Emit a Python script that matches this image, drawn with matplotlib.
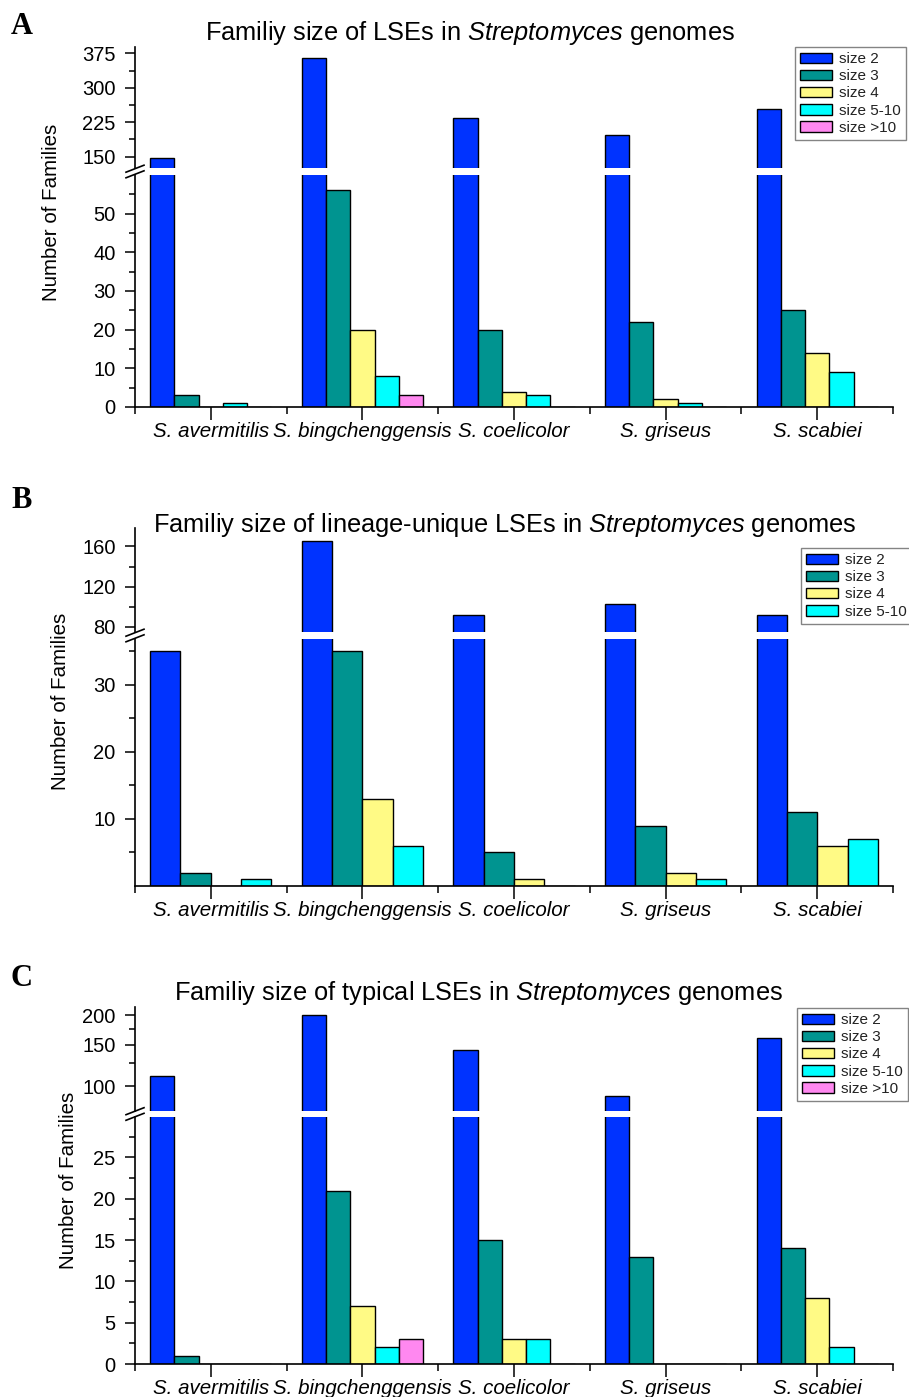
import numpy as np
import matplotlib
matplotlib.use('Agg')
import matplotlib.pyplot as plt
from matplotlib.ticker import FixedLocator, NullLocator, FixedFormatter, NullFormatter
from matplotlib.lines import Line2D

plt.rcParams['font.family'] = ['Liberation Sans', 'DejaVu Sans']
plt.rcParams['mathtext.fontset'] = 'custom'
plt.rcParams['mathtext.rm'] = 'Liberation Sans'
plt.rcParams['mathtext.it'] = 'Liberation Sans:italic'

# ---------------- data ----------------
categories = ['S. avermitilis', 'S. bingchenggensis', 'S. coelicolor', 'S. griseus', 'S. scabiei']
series_names = ['size 2', 'size 3', 'size 4', 'size 5-10', 'size >10']

# Panel A: all LSEs
a_size2 = [146, 364, 234, 196, 254]
a_size3 = [3, 56, 20, 22, 25]
a_size4 = [0, 20, 4, 2, 14]
a_size5_10 = [1, 8, 3, 1, 9]
a_size_gt10 = [0, 3, 0, 0, 0]

# Panel B: lineage-unique LSEs
b_size2 = [35, 165, 92, 103, 92]
b_size3 = [2, 35, 5, 9, 11]
b_size4 = [0, 13, 1, 2, 6]
b_size5_10 = [1, 6, 0, 1, 7]

# Panel C: typical LSEs
c_size2 = [110, 200, 142, 91, 160]
c_size3 = [1, 21, 15, 13, 14]
c_size4 = [0, 7, 3, 0, 8]
c_size5_10 = [0, 2, 3, 0, 2]
c_size_gt10 = [0, 3, 0, 0, 0]

colors = ['#0033FF', '#009490', '#FFFA85', '#00FFFF', '#FF88F0']

W, H = 909, 1397
fig = plt.figure(figsize=(W / 100, H / 100), dpi=100)


def box(x0, x1, ytop, ybot):
    return [x0 / W, 1 - ybot / H, (x1 - x0) / W, (ybot - ytop) / H]


def panel(letter, letter_y, title, title_c, series, up_px, low_px, up_lim, low_lim,
          up_major, up_minor, low_major, low_minor, up_log, legend_xy, ylabel_xy):
    n = len(series)
    width = 0.8 / n
    x0, x1 = 135, 893
    ax_u = fig.add_axes(box(x0, x1, *up_px))
    ax_l = fig.add_axes(box(x0, x1, *low_px))
    if up_log:
        ax_u.set_yscale('log')
    x = np.arange(len(categories))
    for i, vals in enumerate(series):
        offs = (i - (n - 1) / 2) * width
        for ax in (ax_u, ax_l):
            ax.bar(x + offs, vals, width, color=colors[i], edgecolor='black',
                   linewidth=1.0, label=series_names[i], zorder=2)
    for ax in (ax_u, ax_l):
        ax.set_xlim(-0.5, len(categories) - 0.5)
        for s in ('top', 'right'):
            ax.spines[s].set_visible(False)
        ax.spines['left'].set_linewidth(1.2)
        ax.spines['bottom'].set_linewidth(1.2)
        ax.tick_params(axis='y', which='major', direction='out', length=7, width=1.1,
                       labelsize=14.5, pad=7)
        ax.tick_params(axis='y', which='minor', direction='out', length=4, width=1.1)
    ax_u.spines['bottom'].set_visible(False)
    ax_u.tick_params(axis='x', which='both', bottom=False, labelbottom=False)
    ax_u.set_ylim(*up_lim)
    ax_l.set_ylim(*low_lim)
    ax_u.yaxis.set_major_locator(FixedLocator(up_major))
    ax_u.yaxis.set_major_formatter(FixedFormatter([str(v) for v in up_major]))
    ax_u.yaxis.set_minor_locator(FixedLocator(up_minor))
    ax_u.yaxis.set_minor_formatter(NullFormatter())
    ax_l.yaxis.set_major_locator(FixedLocator(low_major))
    ax_l.yaxis.set_minor_locator(FixedLocator(low_minor))
    ax_l.set_xticks(x)
    ax_l.set_xticklabels(categories, fontstyle='italic', fontsize=14.8)
    ax_l.xaxis.set_minor_locator(FixedLocator(np.arange(-0.5, len(categories), 1.0)))
    ax_l.tick_params(axis='x', which='major', direction='out', length=9, width=1.1, pad=2)
    ax_l.tick_params(axis='x', which='minor', direction='out', length=5, width=1.1)

    # break marks on the y axis
    pu = ax_u.get_position()
    pl = ax_l.get_position()
    yc = (pu.y0 + pl.y1) / 2
    dx = 9 / W
    dy = 3.5 / H
    sep = 2.8 / H
    for k in (-1, 1):
        fig.add_artist(Line2D([pl.x0 - dx, pl.x0 + dx],
                              [yc + k * sep - dy, yc + k * sep + dy],
                              transform=fig.transFigure, color='black', lw=1.2))

    # legend
    handles, labels = ax_l.get_legend_handles_labels()
    leg = fig.legend(handles, labels, loc='upper left',
                     bbox_to_anchor=(legend_xy[0] / W, 1 - legend_xy[1] / H),
                     bbox_transform=fig.transFigure, frameon=True, fancybox=False,
                     edgecolor='#666666', fontsize=11, handlelength=2.1,
                     handleheight=0.7, labelspacing=0.2, borderpad=0.35,
                     handletextpad=0.4, borderaxespad=0)
    leg.get_frame().set_linewidth(1.0)
    for t in leg.get_texts():
        t.set_color('#222222')

    fig.text(title_c[0] / W, 1 - title_c[1] / H, title, ha='center', va='center', fontsize=18.3)
    fig.text(11 / W, 1 - letter_y / H, letter, ha='left', va='center', fontsize=22,
             fontfamily='Liberation Serif', fontweight='bold')
    fig.text(ylabel_xy[0] / W, 1 - ylabel_xy[1] / H, 'Number of Families', rotation=90,
             ha='center', va='center', fontsize=14.8)


panel('A', 26, 'Familiy size of LSEs in $\\it{Streptomyces}$ genomes', (470, 33),
      [a_size2, a_size3, a_size4, a_size5_10, a_size_gt10],
      (47, 168), (175, 407), (125, 389), (0, 60),
      [150, 225, 300, 375], [187.5, 262.5, 337.5],
      [0, 10, 20, 30, 40, 50], [5, 15, 25, 35, 45, 55], False,
      (795, 47), (52, 212))

panel('B', 501, 'Familiy size of lineage-unique LSEs in $\\it{Streptomyces}$ genomes', (505, 525),
      [b_size2, b_size3, b_size4, b_size5_10],
      (528, 632), (639, 886), (74.7, 178.4), (0, 36.8),
      [80, 120, 160], [100, 140],
      [10, 20, 30], [5, 15, 25, 35], False,
      (801, 548), (61, 701))

panel('C', 978, 'Familiy size of typical LSEs in $\\it{Streptomyces}$ genomes', (478, 993),
      [c_size2, c_size3, c_size4, c_size5_10, c_size_gt10],
      (1007, 1111), (1117, 1364), (78.3, 216.9), (0, 29.9),
      [100, 150, 200], [125, 175],
      [0, 5, 10, 15, 20, 25], [2.5, 7.5, 12.5, 17.5, 22.5, 27.5], True,
      (797, 1008), (68, 1180))

fig.savefig('out.png', dpi=100)
